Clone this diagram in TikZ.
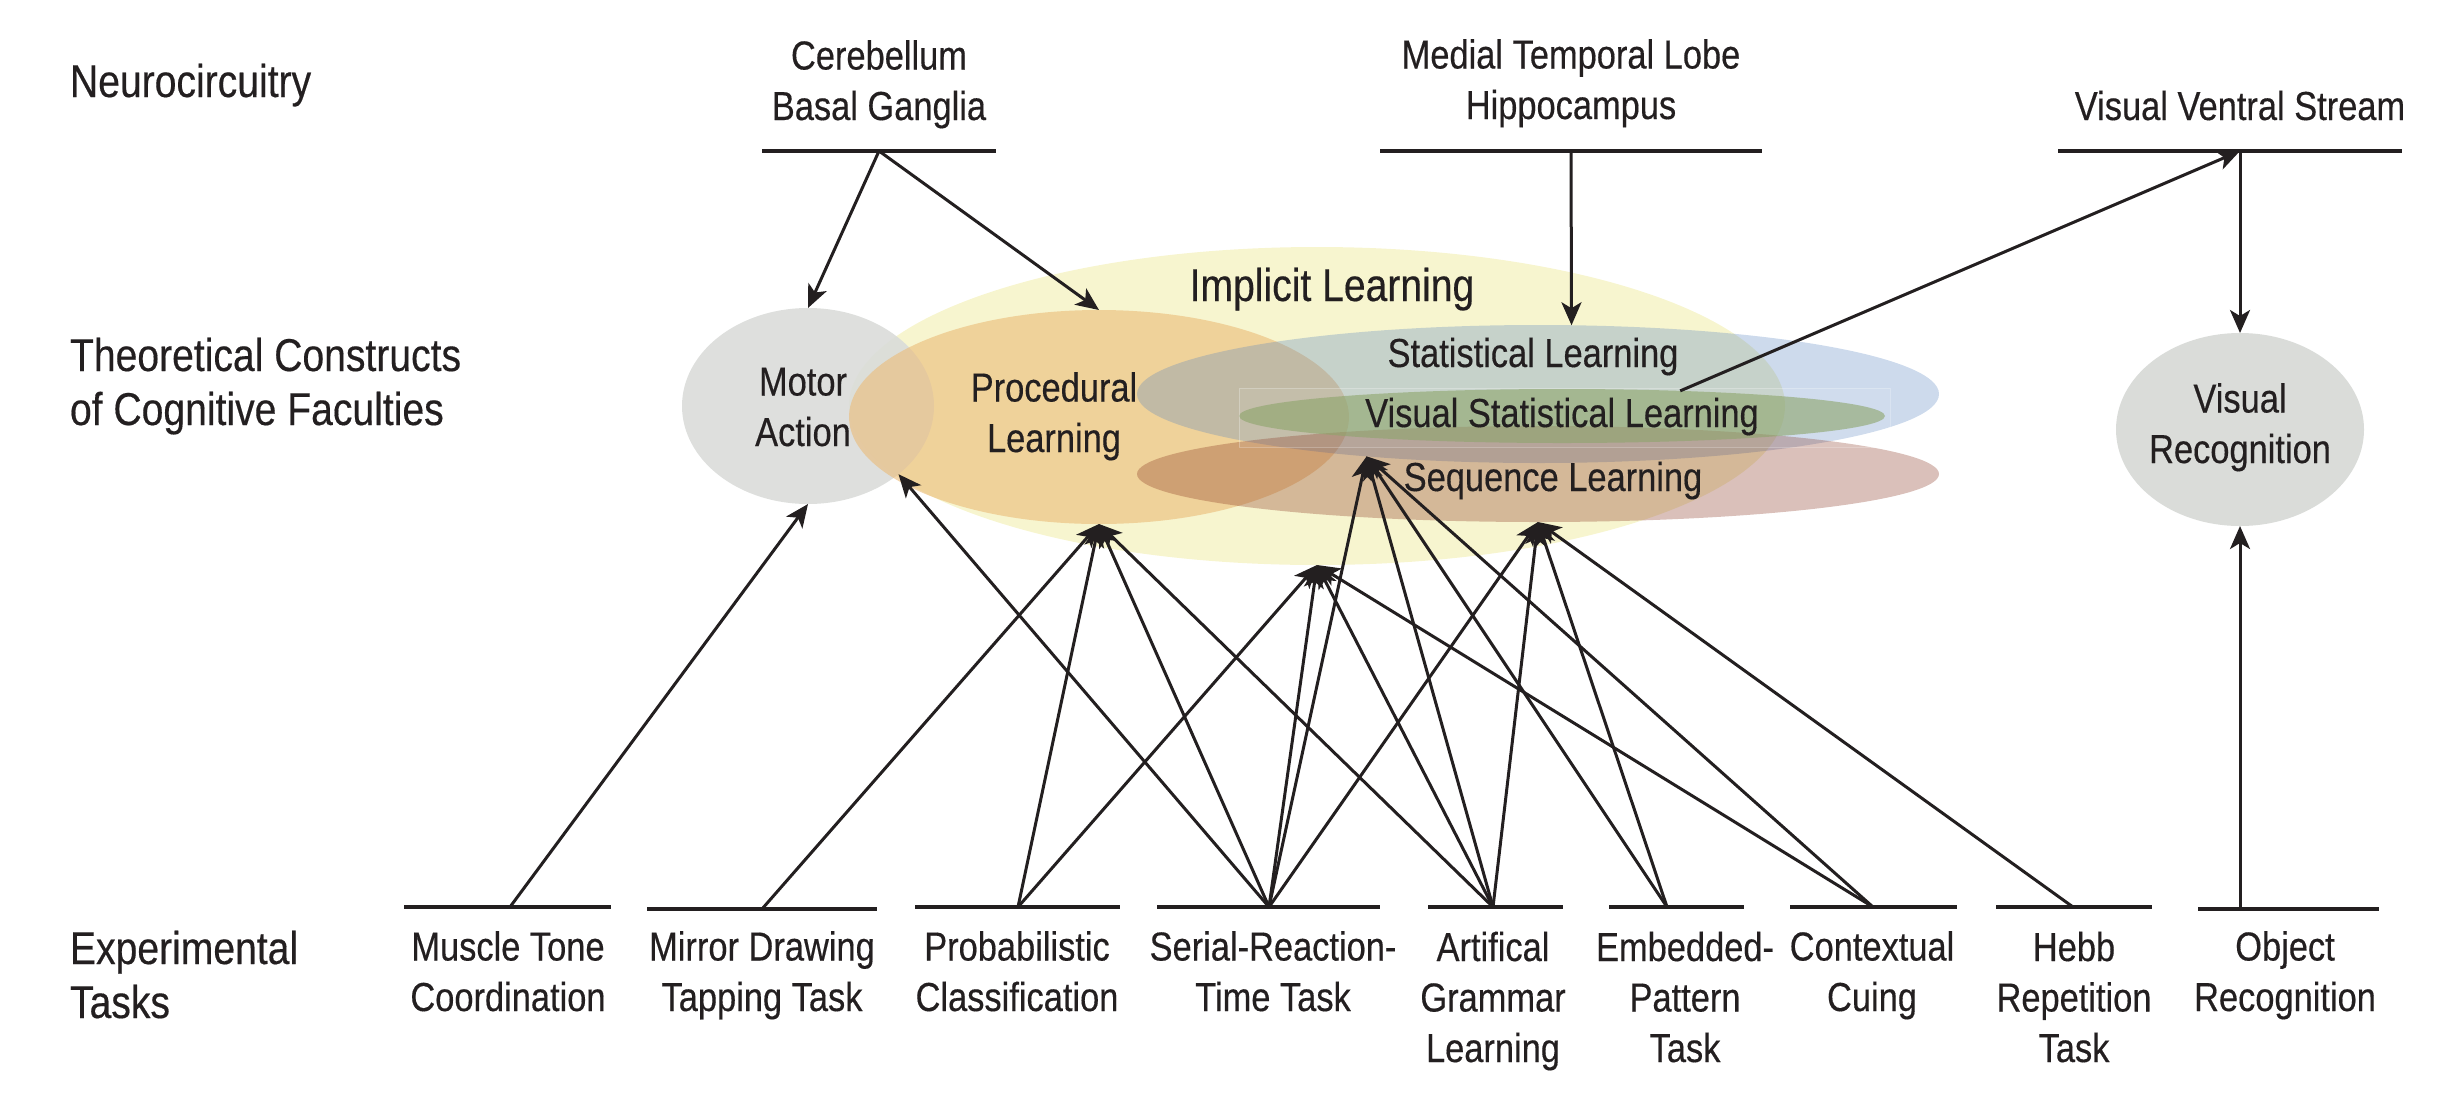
\documentclass[tikz,border=0pt]{standalone}
\usepackage{fontspec}
\setmainfont{Liberation Sans}[FakeStretch=0.85,FakeBold=0.35]
\usetikzlibrary{arrows.meta,shapes.geometric}
\definecolor{ink}{RGB}{35,31,32}
\definecolor{cImpl}{RGB}{247,245,207}
\definecolor{cGrey}{RGB}{218,220,217}
\definecolor{cProc}{RGB}{235,187,120}
\definecolor{cStat}{RGB}{88,132,192}
\definecolor{cSeq}{RGB}{132,45,25}
\definecolor{cVsl}{RGB}{134,159,98}
\begin{document}
\begin{tikzpicture}[x=1pt,y=-1pt,
  ell/.style={ellipse, draw=none, inner sep=0pt, outer sep=0pt},
  txt/.style={font=\fontsize{40.5}{50.5}\selectfont, text=ink, inner sep=0pt, outer sep=0pt, align=center, anchor=base},
  bigtxt/.style={font=\fontsize{46}{54}\selectfont, text=ink, inner sep=0pt, outer sep=0pt, align=left, anchor=base west},
  uline/.style={draw=ink, line width=4pt},
  conn/.style={draw=ink, line width=3pt, -{Stealth[length=23pt,width=20pt,inset=6pt]}},
]
\useasboundingbox (0,0) rectangle (2446,1104);

% ---------- ellipses ----------
\node[ell, fill=cImpl, minimum width=936pt, minimum height=318pt] (impl) at (1317,406) {};
\node[ell, fill=cGrey, fill opacity=0.9, minimum width=252pt, minimum height=196pt] (motor) at (808,406) {};
\node[ell, fill=cProc, fill opacity=0.6, minimum width=500pt, minimum height=214pt] (proc) at (1099,417) {};
\node[ell, fill=cStat, fill opacity=0.3, minimum width=802pt, minimum height=138pt] (stat) at (1538,394) {};
\node[ell, fill=cSeq, fill opacity=0.3, minimum width=802pt, minimum height=96pt] (seq) at (1538,474) {};
\node[ell, fill=cVsl, fill opacity=0.6, minimum width=646pt, minimum height=54pt] (vsl) at (1562,416) {};
\fill[white, fill opacity=0.06] (1239,388) rectangle (1890,447);
\draw[white, opacity=0.25, line width=1pt] (1239,388) rectangle (1890,447);
\node[ell, fill=cGrey, minimum width=248pt, minimum height=193pt] (vr) at (2240,429.5) {};

% ---------- left labels (anchor = baseline of last line) ----------
\node[bigtxt] (lneuro) at (70,97) {Neurocircuitry};
\node[bigtxt] (ltheo) at (70,425) {Theoretical Constructs\\of Cognitive Faculties};
\node[bigtxt] (lexp) at (70,1018) {Experimental\\Tasks};

% ---------- neurocircuitry ----------
\node[txt] (cbT) at (879,120) {Cerebellum\\Basal Ganglia};
\node[txt] (mtlT) at (1571,119) {Medial Temporal Lobe\\Hippocampus};
\node[txt] (vvsT) at (2240,120) {Visual Ventral Stream};
\draw[uline] (762,151) -- (996,151);
\draw[uline] (1380,151) -- (1762,151);
\draw[uline] (2058,151) -- (2402,151);
\coordinate (cb) at (879,151);
\coordinate (mtl) at (1571,151);
\coordinate (vvs) at (2240,151);

% ---------- tasks ----------
\node[txt] (mtT) at (508,1011) {Muscle Tone\\Coordination};
\node[txt] (mdT) at (762,1011) {Mirror Drawing\\Tapping Task};
\node[txt] (pcT) at (1017,1011) {Probabilistic\\Classification};
\node[txt] (srtT) at (1273,1011) {Serial-Reaction-\\Time Task};
\node[txt] (aglT) at (1493,1062) {Artifical\\Grammar\\Learning};
\node[txt] (epT) at (1685,1062) {Embedded-\\Pattern\\Task};
\node[txt] (ccT) at (1872,1011) {Contextual\\Cuing};
\node[txt] (hebbT) at (2074,1062) {Hebb\\Repetition\\Task};
\node[txt] (orT) at (2285,1011) {Object\\Recognition};

\draw[uline] (404,907) -- (611,907);
\draw[uline] (647,909) -- (877,909);
\draw[uline] (915,907) -- (1120,907);
\draw[uline] (1157,907) -- (1380,907);
\draw[uline] (1428,907) -- (1563,907);
\draw[uline] (1609,907) -- (1744,907);
\draw[uline] (1790,907) -- (1957,907);
\draw[uline] (1996,907) -- (2152,907);
\draw[uline] (2198,909) -- (2379,909);

\coordinate (mt) at (510,907);
\coordinate (md) at (762,909);
\coordinate (pc) at (1018,907);
\coordinate (srt) at (1269,907);
\coordinate (agl) at (1493,907);
\coordinate (ep) at (1667,907);
\coordinate (cc) at (1873,907);
\coordinate (hebb) at (2073,907);
\coordinate (or) at (2240,909);

% ---------- connectors ----------
\draw[conn] (cb) -- (motor.north);
\draw[conn] (cb) -- (proc.north);
\draw[conn] (mtl) -- (stat.64.4);
\draw[conn] (vsl.12.2) -- (vvs);
\draw[conn] (vvs) -- (vr.north);

\draw[conn] (mt) -- (motor.south);
\draw[conn] (md) -- (proc.south);
\draw[conn] (pc) -- (proc.south);
\draw[conn] (pc) -- (impl.south);
\draw[conn] (srt) -- (motor.-37.4);
\draw[conn] (srt) -- (proc.south);
\draw[conn] (srt) -- (impl.south);
\draw[conn] (srt) -- (stat.-160);
\draw[conn] (srt) -- (seq.south);
\draw[conn] (agl) -- (proc.south);
\draw[conn] (agl) -- (impl.south);
\draw[conn] (agl) -- (stat.-160);
\draw[conn] (agl) -- (seq.south);
\draw[conn] (ep) -- (stat.-160);
\draw[conn] (ep) -- (seq.south);
\draw[conn] (cc) -- (stat.-160);
\draw[conn] (cc) -- (impl.south);
\draw[conn] (hebb) -- (seq.south);
\draw[conn] (or) -- (vr.south);

% ---------- ellipse labels ----------
\node[txt, font=\fontsize{46}{54}\selectfont] (implT) at (1332,301) {Implicit Learning};
\node[txt] (motorT) at (803,446) {Motor\\Action};
\node[txt] (procT) at (1054,452) {Procedural\\Learning};
\node[txt] (statT) at (1533,367) {Statistical Learning};
\node[txt] (vslT) at (1562,427) {Visual Statistical Learning};
\node[txt] (seqT) at (1553,491) {Sequence Learning};
\node[txt] (vrT) at (2240,463) {Visual\\Recognition};
\end{tikzpicture}
\end{document}
